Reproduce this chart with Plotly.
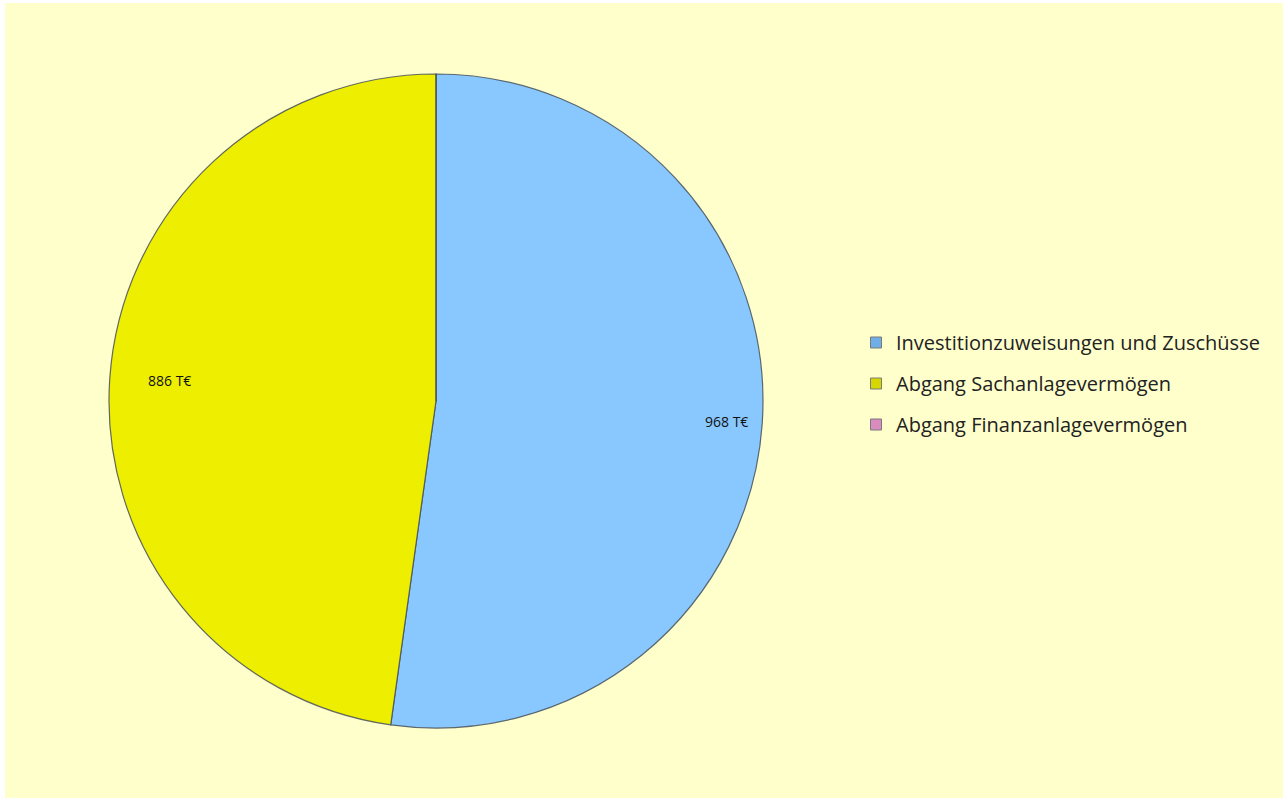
import math
import plotly.graph_objects as go

# Inflows from investment activity (T€)
labels = [
    "Investitionzuweisungen und Zuschüsse",
    "Abgang Sachanlagevermögen",
    "Abgang Finanzanlagevermögen",
]
values = [968, 886, 0]
value_texts = ["968 T€", "886 T€", ""]

slice_colors = ["#88C8FF", "#EEEE00", "#D98CC0"]
legend_colors = ["#6FAEE6", "#D6D600", "#D98CC0"]

W, H = 1285, 800
cx, cy, R = 436, 401, 327  # pie centre and radius in pixels

fig = go.Figure()

fig.add_trace(go.Pie(
    labels=labels,
    values=values,
    sort=False,
    direction="clockwise",
    rotation=0,
    marker=dict(colors=slice_colors, line=dict(color="rgba(70,80,90,0.85)", width=1.2)),
    textinfo="none",
    hoverinfo="label+value",
    showlegend=False,
    domain=dict(x=[(cx - R) / W, (cx + R) / W], y=[(H - cy - R) / H, (H - cy + R) / H]),
))

# legend entries, one per category
for i, (lab, col) in enumerate(zip(labels, legend_colors)):
    fig.add_trace(go.Scatter(
        x=[None], y=[None], mode="markers", name=lab, legendgroup=str(i),
        marker=dict(symbol="square", size=11, color=col, line=dict(color="#7a7a7a", width=1)),
    ))

# value labels near the outer edge of each slice
annotations = []
total = sum(values)
cum = 0.0
for v, txt in zip(values, value_texts):
    if v > 0:
        mid = math.radians((cum + v / 2) / total * 360)
        r = 0.89 * R
        px = cx + r * math.sin(mid)
        py = cy - r * math.cos(mid)
        annotations.append(dict(
            x=px / W, y=1 - py / H, xref="paper", yref="paper", text=txt,
            showarrow=False, font=dict(family="Open Sans", size=14, color="#111111"),
        ))
    cum += v

fig.update_layout(
    width=W, height=H,
    margin=dict(l=0, r=0, t=0, b=0),
    paper_bgcolor="white",
    plot_bgcolor="rgba(0,0,0,0)",
    xaxis=dict(visible=False),
    yaxis=dict(visible=False),
    shapes=[dict(
        type="rect", xref="paper", yref="paper", layer="below",
        x0=5 / W, x1=(W - 2) / W, y0=2 / H, y1=(H - 3) / H,
        fillcolor="#FFFFCC", line=dict(width=0),
    )],
    annotations=annotations,
    legend=dict(
        x=856 / W, y=1 - 323 / H, xanchor="left", yanchor="top",
        bgcolor="rgba(0,0,0,0)",
        font=dict(family="Open Sans", size=20, color="#222222"),
        tracegroupgap=12, itemwidth=30,
    ),
)

fig.write_html("out.html")
